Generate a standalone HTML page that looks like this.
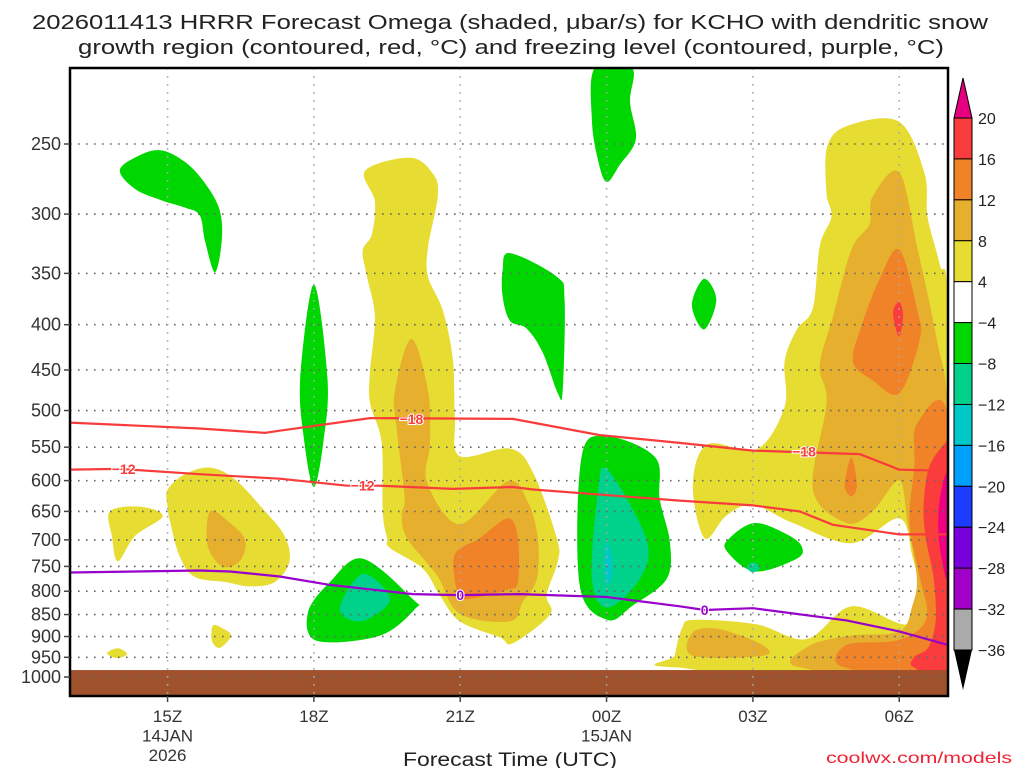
<!DOCTYPE html>
<html><head><meta charset="utf-8"><style>
html,body{margin:0;padding:0;background:#fff;}
svg{display:block;font-family:"Liberation Sans",sans-serif;}
</style></head><body>
<svg id="chart" width="1024" height="768" viewBox="0 0 1024 768" xmlns="http://www.w3.org/2000/svg">
<g fill="#222" font-size="20">
<text x="32" y="29" textLength="956" lengthAdjust="spacingAndGlyphs">2026011413 HRRR Forecast Omega (shaded, μbar/s) for KCHO with dendritic snow</text>
<text x="78" y="54" textLength="866" lengthAdjust="spacingAndGlyphs">growth region (contoured, red, °C) and freezing level (contoured, purple, °C)</text>
</g>
<g id="plot"></g>
<g id="axes"></g>
<g id="cbar"></g>
<text x="510" y="766" text-anchor="middle" font-size="19" fill="#222" textLength="214" lengthAdjust="spacingAndGlyphs">Forecast Time (UTC)</text>
<text x="1012" y="763" text-anchor="end" font-size="16" fill="#e23" textLength="186" lengthAdjust="spacingAndGlyphs">coolwx.com/models</text>
</svg>
<script>
// ---- axis data ----
const pressureTicks = [250,300,350,400,450,500,550,600,650,700,750,800,850,900,950,1000];
const timeTicks = [2,5,8,11,14,17]; // hours after 13Z
const timeLabels = ["15Z","18Z","21Z","00Z","03Z","06Z"];
const dateLabels = {"15Z":["14JAN","2026"],"00Z":["15JAN"]};
const cbarLevels = ["20","16","12","8","4","−4","−8","−12","−16","−20","−24","−28","−32","−36"];
const cbarColors = ["#fa3c3c","#f08228","#e6af2d","#e6dc32","#ffffff","#00d700","#00d28c","#00c8c8","#00a0ff","#1e3cff","#7800dc","#a000c8","#aaaaaa"];
const groundPressure = 982;

// ---- omega shaded contours [hour, hPa] ----
const yellowAreas = [
 [[6.05,268],[6.97,259],[7.44,270],[7.54,286],[7.34,327],[7.34,353],[7.64,385],[7.85,438],[7.89,510],[7.99,563],[9.02,552],[9.49,587],[9.98,697],[10.0,740],[9.77,808],[9.84,850],[9.08,916],[8.81,902],[7.99,865],[7.58,808],[7.23,754],[6.56,715],[6.5,697],[6.41,650],[6.39,544],[6.15,490],[6.15,452],[6.25,392],[6.09,353],[6.0,330],[6.19,316],[6.25,290]],
 [[2.0,614],[2.36,590],[2.87,580],[3.38,598],[4.0,650],[4.4,693],[4.5,740],[4.2,781],[3.69,790],[3.18,781],[2.56,771],[2.25,731],[2.05,667],[2.0,642]],
 [[0.82,650],[1.43,642],[1.9,658],[1.33,693],[0.98,740],[0.86,693]],
 [[0.76,940],[0.98,928],[1.17,942],[0.96,952]],
 [[2.93,875],[3.11,880],[3.3,898],[3.07,927],[2.91,910]],
 [[15.53,251],[15.98,238],[17.0,236],[17.52,270],[17.58,302],[17.83,342],[18,387],[18,975],[12.4,975],[12.4,945],[12.55,880],[12.8,862],[14.08,872],[15.1,906],[16.02,832],[17.15,872],[17.42,806],[17.27,731],[17.0,662],[16.02,706],[14.82,670],[14.0,639],[13.46,657],[13.01,697],[12.77,607],[13.07,546],[14.08,553],[14.65,495],[14.65,440],[14.9,405],[15.23,383],[15.37,326],[15.61,302],[15.51,284]]
];
const lightOrangeAreas = [
 [[7.0,415],[7.34,475],[7.38,544],[7.32,603],[7.99,672],[8.98,601],[9.39,635],[9.59,697],[9.57,775],[9.28,823],[9.02,865],[7.99,848],[7.52,767],[6.91,697],[6.8,655],[6.86,626],[6.7,526],[6.66,475]],
 [[2.87,650],[3.24,667],[3.59,700],[3.48,740],[3.12,750],[2.82,710]],
 [[16.45,287],[17.0,269],[17.38,329],[17.77,416],[18,510],[18,975],[14.96,975],[15.16,922],[15.98,898],[17.0,888],[17.27,830],[17.36,771],[17.17,670],[17.0,600],[16.45,650],[15.92,670],[15.23,614],[15.51,490],[15.37,445],[15.64,392],[16.02,329],[16.39,308]],
 [[12.77,890],[13.32,883],[14.2,920],[14.2,946],[12.77,946]]
];
const orangeAreas = [
 [[8.98,662],[9.18,697],[9.18,781],[8.96,797],[8.09,817],[7.93,797],[7.89,727],[8.4,697]],
 [[17.0,329],[17.38,387],[17.42,416],[17.0,478],[16.45,462],[16.05,440],[16.25,398],[16.6,355]],
 [[16.02,565],[16.13,607],[16.02,625],[15.88,607]],
 [[17.36,518],[18,510],[18,975],[15.88,975],[15.92,920],[17.0,908],[17.56,859],[17.42,771],[17.21,670],[17.31,578]]
];
const redAreas = [
 [[17.0,377],[17.08,390],[17.0,412],[16.9,398],[16.88,385]],
 [[17.62,578],[17.97,542],[18,542],[18,975],[17.3,975],[17.3,950],[17.6,925],[17.75,860],[17.7,770],[17.55,700],[17.5,640]]
];
const magentaAreas = [
 [[17.85,620],[18,595],[18,770],[17.85,725],[17.8,670]]
];
const greenAreas = [
 [[1.02,268],[1.33,259],[1.84,254],[2.36,262],[2.77,277],[3.07,297],[3.11,322],[2.97,349],[2.77,322],[2.66,301],[2.36,295],[1.84,289],[1.33,281]],
 [[5,360],[4.72,460],[4.8,540],[5,610],[5.2,540],[5.28,460]],
 [[10.76,205],[11.52,205],[11.48,224],[11.6,247],[11.27,264],[11.0,276],[10.82,260],[10.7,235]],
 [[9.02,332],[9.98,353],[10.14,375],[10.1,475],[10.0,478],[9.69,430],[9.36,404],[9.02,396],[8.87,372],[8.87,347]],
 [[13,355],[13.25,375],[13,405],[12.75,380]],
 [[6.0,735],[7.03,817],[7.07,838],[6.35,898],[5.06,910],[4.88,845],[5.33,781]],
 [[11.02,535],[12.0,565],[12.09,630],[12.3,705],[12.23,775],[11.54,830],[11.02,862],[10.45,788],[10.49,563]],
 [[14.04,670],[14.7,690],[15.0,712],[14.9,735],[14.04,760],[13.46,720],[13.52,697]]
];
const tealAreas = [
 [[6.0,765],[6.56,817],[5.98,865],[5.53,838]],
 [[11.02,583],[11.82,700],[11.68,775],[11.02,835],[10.7,775],[10.82,620]],
 [[14.0,742],[14.15,752],[14.0,762],[13.88,752]]
];
const cyanAreas = [
 [[11.02,705],[11.13,754],[11.02,788],[10.96,746]]
];

// ---- temperature contours [hour, hPa] ----
const isoMinus18 = [[0,516],[2.66,524],[4.0,530],[4.3,527],[6.15,510],[9.08,511],[10.86,533],[12.5,544],[14.0,555],[16.19,560],[17.0,583],[18,585]];
const isoMinus12 = [[0,583],[1.02,582],[2.66,590],[4.3,597],[5.68,608],[6.35,608],[7.85,613],[9.08,610],[9.49,614],[12.5,632],[14.0,640],[14.96,650],[15.64,673],[17.0,690],[18,690]];
const isoZero = [[0,762],[2.66,758],[3.28,760],[4.3,770],[5.33,787],[7.03,806],[8.0,808],[9.22,806],[11.0,812],[12.5,832],[13.01,840],[14.0,836],[15.92,863],[17.0,888],[18,920]];
const labelsMinus18 = [[7.0,511],[15.05,556]];
const labelsMinus12 = [[1.1,582],[6.0,608]];
const labelsZero = [[8.0,808],[13.01,840]];

// ---- axis functions ----
const X0=70, X1=948, Y0=68, Y1=696, HMAX=18;
const LNTOP=Math.log(250), PXLN=384.5, YREF=144;
const x = h => X0 + h*(X1-X0)/HMAX;
const y = p => YREF + (Math.log(p)-LNTOP)*PXLN;
const NS="http://www.w3.org/2000/svg";
const plot=document.getElementById('plot'), axes=document.getElementById('axes'), cbar=document.getElementById('cbar');
function mk(tag, parent, attrs){const e=document.createElementNS(NS,tag);for(const k in attrs)e.setAttribute(k,attrs[k]);parent.appendChild(e);return e;}
function smoothPath(pts){
 const P=pts.map(d=>[x(d[0]),Math.max(Y0,Math.min(Y1,y(d[1])))]);
 const n=P.length;let s="M"+P[0][0].toFixed(1)+","+P[0][1].toFixed(1);
 for(let i=0;i<n;i++){const p0=P[(i-1+n)%n],p1=P[i],p2=P[(i+1)%n],p3=P[(i+2)%n];
  const c1=[p1[0]+(p2[0]-p0[0])/6,p1[1]+(p2[1]-p0[1])/6],c2=[p2[0]-(p3[0]-p1[0])/6,p2[1]-(p3[1]-p1[1])/6];
  s+="C"+c1.map(v=>v.toFixed(1))+" "+c2.map(v=>v.toFixed(1))+" "+p2.map(v=>v.toFixed(1));}
 return s+"Z";
}
function linePath(pts){return pts.map((d,i)=>(i?"L":"M")+x(d[0]).toFixed(1)+","+y(d[1]).toFixed(1)).join("");}

const clip=mk('clipPath',plot,{id:'pc'});mk('rect',clip,{x:X0,y:Y0,width:X1-X0,height:Y1-Y0});
const shade=mk('g',plot,{'clip-path':'url(#pc)'});


const layers=[[yellowAreas,"#e6dc32","omega-4-8"],[lightOrangeAreas,"#e6af2d","omega-8-12"],[orangeAreas,"#f08228","omega-12-16"],[redAreas,"#fa3c3c","omega-16-20"],[magentaAreas,"#f00082","omega-above-20"],[greenAreas,"#00d700","omega-minus-4-8"],[tealAreas,"#00d28c","omega-minus-8-12"],[cyanAreas,"#00c8c8","omega-minus-12-16"]];
layers.forEach(L=>L[0].forEach(poly=>{
 const e=mk('path',shade,{d:smoothPath(poly),fill:L[1]});
 
 
}));
// ground
const g=mk('rect',shade,{x:X0,y:y(groundPressure),width:X1-X0,height:Y1-y(groundPressure),fill:'#a0522d'});



// grid
const grid=mk('g',plot,{stroke:'#666','stroke-width':1.6,'stroke-dasharray':'1.6 6.4'});


pressureTicks.forEach(p=>mk('line',grid,{x1:X0,x2:X1,y1:y(p),y2:y(p)}));
const vg=mk('g',plot,{stroke:'#aaa','stroke-width':1.6,'stroke-dasharray':'1.6 6.4'});


timeTicks.forEach(h=>mk('line',vg,{x1:x(h),x2:x(h),y1:Y0,y2:Y1}));

// contour lines
const lines=mk('g',plot,{'clip-path':'url(#pc)',fill:'none','stroke-width':2.2});
[[isoMinus18,'#f83c3c','minus-18-isotherm'],[isoMinus12,'#f83c3c','minus-12-isotherm'],[isoZero,'#9900cc','freezing-level-line']].forEach(L=>{
 const e=mk('path',lines,{d:linePath(L[0]),stroke:L[1]});
 
 
});
function clabel(list,txt,col){list.forEach(d=>{
 const t=mk('text',plot,{x:x(d[0]),y:y(d[1])+5,'text-anchor':'middle','font-size':14,'font-weight':'bold',fill:col,stroke:'#fff','stroke-width':2,'paint-order':'stroke'});
 t.textContent=txt;
 
 
});}
clabel(labelsMinus18,"−18","#f83c3c");clabel(labelsMinus12,"−12","#f83c3c");clabel(labelsZero,"0","#9900cc");

// frame
const fr=mk('rect',axes,{x:X0,y:Y0,width:X1-X0,height:Y1-Y0,fill:'none',stroke:'#000','stroke-width':2.5});


pressureTicks.forEach(p=>{
 mk('line',axes,{x1:X0-6,x2:X0,y1:y(p),y2:y(p),stroke:'#444','stroke-width':1.5});
 const t=mk('text',axes,{x:61,y:y(p)+6,'text-anchor':'end','font-size':18,fill:'#333'});
 t.textContent=String(p);
 
 
});
timeTicks.forEach((h,i)=>{
 mk('line',axes,{x1:x(h),x2:x(h),y1:Y1,y2:Y1+6,stroke:'#444','stroke-width':1.5});
 const lab=timeLabels[i];const rows=[lab].concat(dateLabels[lab]||[]);
 rows.forEach((r,j)=>{const t=mk('text',axes,{x:x(h),y:722+j*19.5,'text-anchor':'middle','font-size':17,fill:'#333'});
  t.textContent=r;
  
  });
});

// colorbar
const CB0=118, CBH=(650-118)/cbarColors.length, CX=954, CW=18;
cbarColors.forEach((c,i)=>{const r=mk('rect',cbar,{x:CX,y:CB0+i*CBH,width:CW,height:CBH,fill:c,stroke:'#000','stroke-width':1});
 
 });
const tu=mk('polygon',cbar,{points:`${CX},${CB0} ${CX+CW},${CB0} ${CX+CW/2},78`,fill:'#e6007f',stroke:'#000','stroke-width':1});


const td=mk('polygon',cbar,{points:`${CX},650 ${CX+CW},650 ${CX+CW/2},690`,fill:'#000'});


cbarLevels.forEach((l,i)=>{const t=mk('text',cbar,{x:978,y:CB0+i*CBH+6,'font-size':16,fill:'#222'});
 t.textContent=l;
 
 });
</script>
</body></html>
